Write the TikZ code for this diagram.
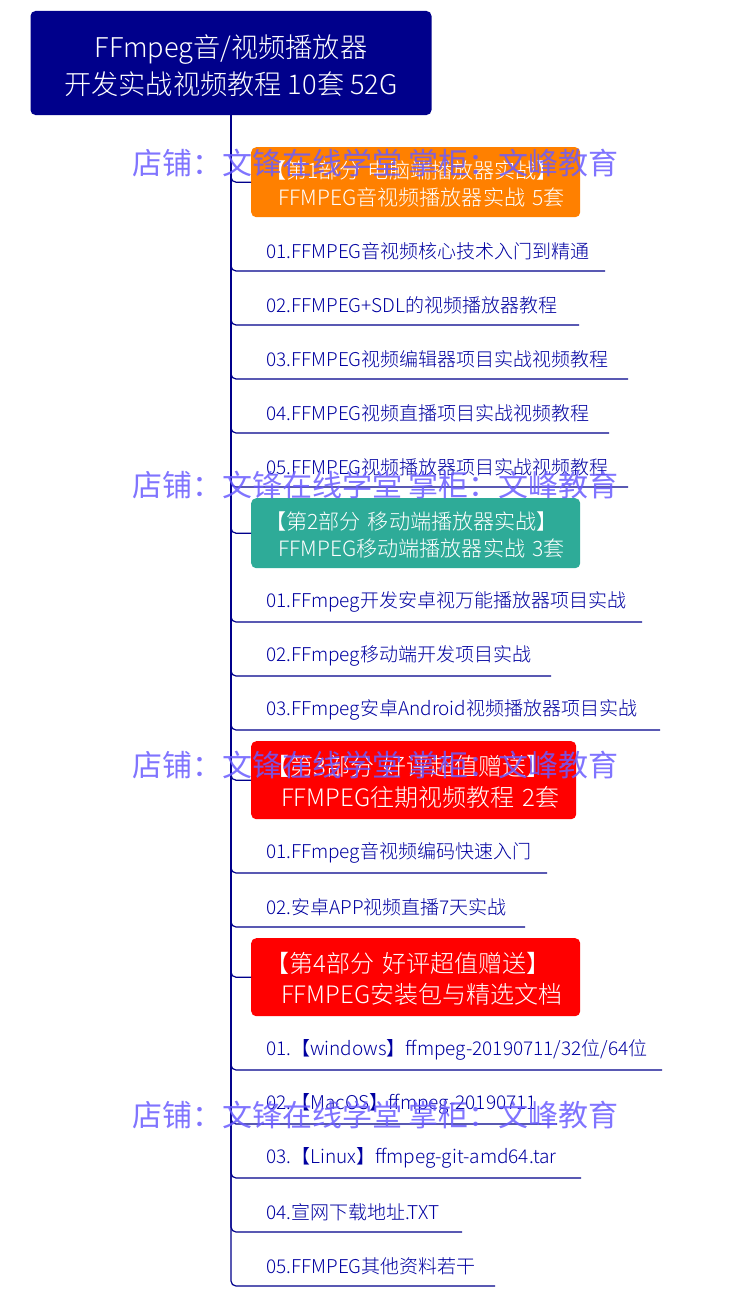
\documentclass[tikz,border=0pt]{standalone}
\usepackage{fontspec}
\setmainfont{Noto Sans CJK SC Light}
\newfontfamily\stampfont{Noto Sans CJK SC}
\definecolor{navy}{HTML}{00008B}
\definecolor{linktext}{HTML}{0000A0}
\definecolor{mark}{HTML}{6A5CFF}
\definecolor{tealbox}{HTML}{2EAB98}
\definecolor{orangebox}{HTML}{FF8000}
\newcommand{\fsize}[1]{\fontsize{#1}{#1}\selectfont}
\begin{document}
\begin{tikzpicture}[x=1pt, y=-1pt,
    topbox/.style={fill=navy, text=white, rounded corners=5pt, minimum width=401pt, minimum height=104pt, align=center, font=\fsize{27.2}, inner sep=0pt},
    partbox/.style={anchor=north west, text=white, rounded corners=5pt, text width=309pt, inner xsep=10pt, inner ysep=0pt, align=left},
    leaf/.style={anchor=west, text=linktext, font=\fsize{19}, inner sep=0pt},
    link/.style={draw=navy, line width=1.2pt, rounded corners=5pt},
    stamp/.style={anchor=west, text=mark, opacity=0.85, font=\stampfont\fsize{30}, inner sep=0pt}]
    \useasboundingbox (0,0) rectangle (750,1298);
    \node[topbox] (root) at (231,63) {\rule{0pt}{28pt}FFmpeg音/视频播放器\\[6pt]开发实战视频教程 10套 52G};
    % part boxes
    \node[partbox, fill=orangebox, minimum height=70pt, font=\fsize{21.1}] (p1) at (251,147) {\rule{0pt}{20.6pt}\hspace*{4pt}【第1部分 电脑端播放器实战】\\[6pt]\hspace*{17pt}FFMPEG音视频播放器实战 5套};
    \node[partbox, fill=tealbox, minimum height=70pt, font=\fsize{21.1}] (p2) at (251,498) {\rule{0pt}{20.6pt}\hspace*{4pt}【第2部分 移动端播放器实战】\\[6pt]\hspace*{17pt}FFMPEG移动端播放器实战 3套};
    \node[partbox, fill=red, text width=305pt, minimum height=78pt, font=\fsize{24}] (p3) at (251,741) {\rule{0pt}{23.1pt}\hspace*{4pt}【第3部分 好评超值赠送】\\[7pt]\hspace*{20pt}FFMPEG往期视频教程 2套};
    \node[partbox, fill=red, minimum height=78pt, font=\fsize{24}] (p4) at (251,938) {\rule{0pt}{23.1pt}\hspace*{4pt}【第4部分 好评超值赠送】\\[7pt]\hspace*{20pt}FFMPEG安装包与精选文档};
    \foreach \i in {1,...,4}
        \draw[link] (root.south) |- (p\i.west);
    % leaves
    \foreach \i/\ypos/\xend/\txt in {
        a/271/605/{01.FFMPEG音视频核心技术入门到精通},
        b/325/579/{02.FFMPEG+SDL的视频播放器教程},
        c/379/628/{03.FFMPEG视频编辑器项目实战视频教程},
        d/433/609/{04.FFMPEG视频直播项目实战视频教程},
        e/487/628/{05.FFMPEG视频播放器项目实战视频教程},
        f/622/642/{01.FFmpeg开发安卓视万能播放器项目实战},
        g/676/551/{02.FFmpeg移动端开发项目实战},
        h/730/660/{03.FFmpeg安卓Android视频播放器项目实战},
        j/873/547/{01.FFmpeg音视频编码快速入门},
        k/927/525/{02.安卓APP视频直播7天实战},
        l/1070/662/{01.【windows】ffmpeg-20190711/32位/64位},
        m/1124/557/{02.【MacOS】ffmpeg-20190711},
        n/1178/581/{03.【Linux】ffmpeg-git-amd64.tar},
        o/1232/462/{04.宣网下载地址.TXT},
        q/1286/495/{05.FFMPEG其他资料若干}} {
        \node[leaf] (leaf\i) at (266,\ypos-20) {\txt};
        \coordinate (end\i) at (\xend,\ypos);
        \draw[link] (root.south) |- (end\i);
    }
    % shop stamp over everything
    \foreach \i/\ypos in {1/163, 2/485, 3/765, 4/1115}
        \node[stamp] (stamp\i) at (132,\ypos) {店铺：文锋在线学堂 掌柜：文峰教育};
\end{tikzpicture}
\end{document}
